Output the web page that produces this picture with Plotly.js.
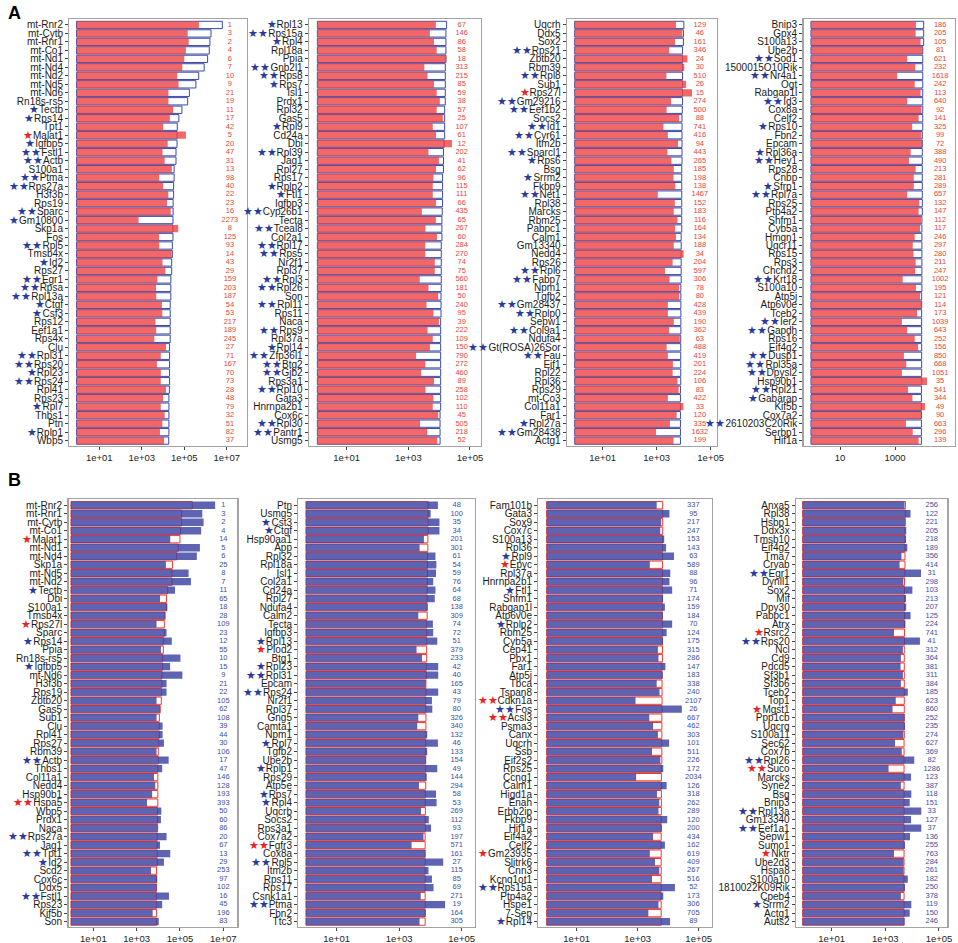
<!DOCTYPE html>
<html>
<head>
<meta charset="utf-8">
<script src="https://cdn.plot.ly/plotly-3.0.1.min.js"></script>
<style>html,body{margin:0;padding:0;background:#fff;}#chart{width:958px;height:943px;}</style>
</head>
<body>
<div id="chart"></div>
<script>
// ---------- DATA ----------
// Panel A1
const genesA1 = ["mt-Rnr2","mt-Cytb","mt-Rnr1","mt-Co1","mt-Nd1","mt-Nd4","mt-Nd2","mt-Nd5","mt-Nd6","Rn18s-rs5","Tectb","Rps14","Tpt1","Malat1","Igfbp5","Fstl1","Actb","S100a1","Ptma","Rps27a","H3f3b","Rps19","Sparc","Gm10800","Skp1a","Fos","Rpl5","Tmsb4x","Id2","Rps27","Egr1","Rpsa","Rpl13a","Ctgf","Csf3","Rps12","Eef1a1","Rps4x","Clu","Rpl31","Rps20","Rpl23","Rps24","Rpl41","Rps23","Rpl7","Thbs1","Ptn","Rplp1","Wbp5"];
const redA1 = [4.9e5,1.45e5,1.62e5,1.2e5,1.0e5,8.1e4,4.7e4,5.4e4,1.8e4,1.8e4,3.0e4,2.1e4,1.02e4,1.2e5,1.66e4,9.5e3,1.2e4,2.6e4,6.6e3,1.02e4,1.78e4,1.55e4,2.3e4,710,5.2e4,6.5e3,6.6e3,2.57e4,9.5e3,1.29e4,5.4e3,4.7e3,4.8e3,8.9e3,9.3e3,4.4e3,4.8e3,3.9e3,1.38e4,7.9e3,5.2e3,7.9e3,7.8e3,1.38e4,1.0e4,7.9e3,1.2e4,9.3e3,7.2e3,1.12e4];
const blueA1 = [6.2e6,1.82e6,1.62e6,1.51e6,1.26e6,8.7e5,4.8e5,3.55e5,1.74e5,1.45e5,7.8e4,5.6e4,4.7e4,4.6e4,4.6e4,4.1e4,4.1e4,3.35e4,3.35e4,3.16e4,3.16e4,3.0e4,3.0e4,2.95e4,2.95e4,2.95e4,2.75e4,2.75e4,2.57e4,2.57e4,2.34e4,2.34e4,2.34e4,2.19e4,2.19e4,2.19e4,2.19e4,2.19e4,2.04e4,2.04e4,2.04e4,2.04e4,2.04e4,2.0e4,1.9e4,1.9e4,1.9e4,1.9e4,1.9e4,1.86e4];
const rankA1 = [1,3,2,4,6,7,10,9,21,19,11,17,42,5,20,47,31,13,98,40,22,23,16,2273,8,125,93,14,43,29,159,203,187,54,53,217,189,245,27,71,167,70,73,28,48,79,32,51,82,37];
const sigA1 = [0,0,0,0,0,0,0,0,0,0,1,1,0,-1,1,2,2,0,2,2,0,0,2,1,0,0,2,0,1,0,2,2,2,1,1,0,0,0,0,2,2,1,2,0,0,1,0,0,1,0];

// Panel A2
const genesA2 = ["Rpl13","Rps15a","Rpl4","Rpl18a","Ppia","Gnb2l1","Rps8","Rps7","Isl1","Prdx1","Rpl32","Gas5","Rpl9","Cd24a","Dbi","Rpl39","Jag1","Rpl27","Rps17","Rplp2","Ftl1","Igfbp3","Cyp26b1","Tecta","Tceal8","Col2a1","Rpl17","Rps5","Nr2f1","Rpl37","Rpl3","Rpl26","Son","Rpl11","Rps11","Naca","Rps9","Rpl37a","Rpl14","Zfp36l1","Btg2","Gjb2","Rps3a1","Rpl10","Gata3","Hnrnpa2b1","Cox6c","Rpl30","Pantr1","Usmg5"];
const redA2 = [7.8e3,5.0e3,6.8e3,8.3e3,1.7e4,3.3e3,4.2e3,6.8e3,8.3e3,1.05e4,8.3e3,1.32e4,6.2e3,7.9e3,2.6e4,4.5e3,9.8e3,7.9e3,6.5e3,6.2e3,6.2e3,7.9e3,2.75e3,7.8e3,3.6e3,8.5e3,3.55e3,3.55e3,7.2e3,7.2e3,2.34e3,4.5e3,9.3e3,3.9e3,6.5e3,9.8e3,4.2e3,6.2e3,5.0e3,1.78e3,3.55e3,2.6e3,6.8e3,3.6e3,6.5e3,6.2e3,9.3e3,2.4e3,4.1e3,8.7e3];
const blueA2 = [1.74e4,1.66e4,1.66e4,1.66e4,1.66e4,1.58e4,1.58e4,1.58e4,1.58e4,1.58e4,1.51e4,1.51e4,1.51e4,1.51e4,1.45e4,1.38e4,1.38e4,1.38e4,1.29e4,1.29e4,1.29e4,1.29e4,1.26e4,1.23e4,1.23e4,1.23e4,1.17e4,1.17e4,1.17e4,1.17e4,1.17e4,1.17e4,1.15e4,1.15e4,1.15e4,1.12e4,1.12e4,1.12e4,1.12e4,1.12e4,1.12e4,1.12e4,1.12e4,1.12e4,1.12e4,1.12e4,1.07e4,1.07e4,1.07e4,1.07e4];
const rankA2 = [67,146,86,58,18,313,215,85,59,38,57,25,107,61,12,202,41,62,96,115,111,66,435,65,267,60,284,270,74,75,560,181,50,240,95,39,222,109,150,790,272,460,89,258,102,110,45,505,218,52];
const sigA2 = [1,2,1,0,0,2,2,1,0,0,0,0,1,0,0,2,0,0,0,1,1,0,2,0,2,0,2,2,0,0,2,2,0,2,0,0,2,0,1,2,2,2,0,2,0,0,0,2,2,0];

// Panel A3
const genesA3 = ["Uqcrh","Ddx5","Sox2","Rps21","Zbtb20","Rbm39","Rpl8","Sub1","Rps27l","Gm29216","Eef1b2","Socs2","Id1","Cyr61","Itm2b","Sparcl1","Rps6","Bsg","Srrm2","Fkbp9","Net1","Rpl38","Marcks","Rbm25","Pabpc1","Calm1","Gm13340","Nedd4","Rps26","Rpl6","Fabp7","Npm1","Tgfb2","Gm28437","Rplp0","Sepw1","Col9a1","Ndufa4","Gt(ROSA)26Sor","Fau","Eif1","Rpl22","Rpl36","Rps29","mt-Co3","Col11a1","Far1","Rpl27a","Gm28438","Actg1"];
const redA3 = [5.2e3,8.9e3,4.8e3,2.9e3,1.38e4,1.05e4,2.3e3,1.23e4,2.04e4,3.4e3,2.34e3,6.8e3,1.78e3,2.6e3,6.2e3,2.5e3,3.5e3,4.3e3,4.2e3,4.9e3,1.1e3,4.7e3,4.3e3,5.9e3,4.8e3,5.2e3,4.3e3,1.0e4,3.9e3,2.04e3,3.0e3,6.8e3,6.8e3,2.6e3,2.6e3,4.3e3,2.9e3,7.2e3,2.34e3,2.6e3,4.0e3,3.9e3,5.9e3,6.5e3,2.6e3,9.8e3,5.5e3,3.1e3,950,4.2e3];
const blueA3 = [1.02e4,9.8e3,9.8e3,9.1e3,9.1e3,9.1e3,9.1e3,9.1e3,9.1e3,9.1e3,8.9e3,8.7e3,8.7e3,8.7e3,8.7e3,8.7e3,8.7e3,8.5e3,8.5e3,8.5e3,8.5e3,8.5e3,8.5e3,8.5e3,8.5e3,8.1e3,8.1e3,8.1e3,8.1e3,8.1e3,8.1e3,7.9e3,7.9e3,7.9e3,7.9e3,7.9e3,7.9e3,7.8e3,7.8e3,7.8e3,7.8e3,7.8e3,7.8e3,7.6e3,7.6e3,7.6e3,7.6e3,7.6e3,7.6e3,7.6e3];
const rankA3 = [129,46,161,346,24,30,510,26,15,274,500,88,741,416,94,443,265,185,198,138,1467,152,183,116,164,134,188,34,204,597,306,78,80,428,439,190,362,63,488,419,201,224,106,83,422,33,120,335,1632,199];
const sigA3 = [0,0,0,2,0,0,2,0,-1,2,2,0,2,2,0,2,1,0,1,0,2,0,0,0,0,0,0,0,0,2,2,0,0,2,2,0,2,0,2,2,0,0,0,0,0,0,0,1,2,0];

// Panel A4
const genesA4 = ["Bnip3","Gpx4","S100a13","Ube2b","Sod1","1500015O10Rik","Nr4a1","Ogt","Rabgap1l","Id3","Cox8a","Celf2","Rps10","Fbn2","Epcam","Rpl36a","Hey1","Rps28","Cnbp","Sfrp1","Rpl7a","Rps25","Ptp4a2","Shfm1","Cyb5a","Hmgn1","Uqcr11","Rps15","Rps3","Chchd2","Krt18","S100a10","Atp5j","Atp6v0e","Tceb2","Ier2","Gapdh","Rps16","Eif4g2","Dusp1","Rpl35a","Dpysl2","Hsp90b1","Rpl21","Gabarap","Kif5b","Cox7a2","2610203C20Rik","Serbp1","Hif1a"];
const redA4 = [5.75e3,5.6e3,8.5e3,1.0e4,2.75e3,5.4e3,1.2e3,5.2e3,8.5e3,2.75e3,9.1e3,7.2e3,4.2e3,9.1e3,9.7e3,3.7e3,3.2e3,5.6e3,4.8e3,4.8e3,2.75e3,7.6e3,7.2e3,8.9e3,8.1e3,5.2e3,4.4e3,4.7e3,5.6e3,5.4e3,1.9e3,5.75e3,8.1e3,8.9e3,6.3e3,1.78e3,2.75e3,5.2e3,6.9e3,2.1e3,2.57e3,1.78e3,1.45e4,2.95e3,4.3e3,1.23e4,9.0e3,2.5e3,4.4e3,7.2e3];
const blueA4 = [1.1e4,1.1e4,1.1e4,1.02e4,1.02e4,1.02e4,1.02e4,1.02e4,1.02e4,1.02e4,1.02e4,1.02e4,1.02e4,9.8e3,9.8e3,9.8e3,9.8e3,9.8e3,9.8e3,9.8e3,9.8e3,9.8e3,9.8e3,9.5e3,9.5e3,9.5e3,9.5e3,9.5e3,9.5e3,9.5e3,9.5e3,9.5e3,9.3e3,9.3e3,9.3e3,9.3e3,9.3e3,9.3e3,9.3e3,9.3e3,9.3e3,9.3e3,9.3e3,9.1e3,9.1e3,9.1e3,9.1e3,9.1e3,9.1e3,9.1e3];
const rankA4 = [186,205,105,81,621,232,1618,242,113,640,92,141,325,99,72,388,490,213,281,289,657,132,147,112,117,246,297,280,211,247,1002,195,121,114,173,1039,643,252,156,850,668,1051,35,541,344,49,90,663,296,139];
const sigA4 = [0,0,0,0,2,0,2,0,0,2,0,0,1,0,0,1,2,0,0,1,2,0,0,0,0,0,0,0,0,0,2,0,0,0,0,2,2,0,0,2,2,2,0,2,1,0,0,2,0,0];

// Panel B1
const genesB1 = ["mt-Rnr2","mt-Rnr1","mt-Cytb","mt-Co1","Malat1","mt-Nd1","mt-Nd4","Skp1a","mt-Nd5","mt-Nd2","Tectb","Dbi","S100a1","Tmsb4x","Rps27l","Sparc","Rps14","Ppia","Rn18s-rs5","Igfbp5","mt-Nd6","H3f3b","Rps19","Zbtb20","Gas5","Sub1","Clu","Rpl41","Rps27","Rbm39","Actb","Thbs1","Col11a1","Nedd4","Hsp90b1","Hspa5","Wbp5","Prdx1","Naca","Rps27a","Jag1","Tpt1","Id2","Scd2","Cox6c","Ddx5","Fstl1","Rps23","Kif5b","Son"];
const redB1 = [3.7e5,1.2e5,1.2e5,1.07e5,1.0e5,8.3e4,7.1e4,4.5e4,4.3e4,4.3e4,2.7e4,2.4e4,2.4e4,2.04e4,1.9e4,1.9e4,1.7e4,1.7e4,1.58e4,1.58e4,1.48e4,1.48e4,1.41e4,1.38e4,1.23e4,1.12e4,1.12e4,1.12e4,1.05e4,1.0e4,1.0e4,9.5e3,9.5e3,9.5e3,9.5e3,9.5e3,9.3e3,9.3e3,9.3e3,8.9e3,8.9e3,8.9e3,8.9e3,8.3e3,8.3e3,8.3e3,8.3e3,8.3e3,8.3e3,8.3e3];
const blueB1 = [4.2e6,1.07e6,1.23e6,9.5e5,3.55e4,8.3e5,6.0e5,2.24e4,2.5e5,3.2e5,5.9e4,1.2e4,2.6e4,2.1e4,8.3e3,2.4e4,4.2e4,1.32e4,1.05e5,3.5e4,1.29e5,2.4e4,2.4e4,8.3e3,1.2e4,8.3e3,1.58e4,1.58e4,1.82e4,8.3e3,3.0e4,1.51e4,6.3e3,7.2e3,5.2e3,3.0e3,1.38e4,1.32e4,9.3e3,2.4e4,1.2e4,3.55e4,1.82e4,4.6e3,8.9e3,8.3e3,3.1e4,1.51e4,5.5e3,1.05e4];
const rankB1 = [1,3,2,4,14,5,6,25,8,7,11,65,18,28,109,23,12,55,10,15,9,21,22,105,62,108,39,44,30,106,17,47,146,128,193,393,50,60,86,20,67,13,29,253,97,102,16,45,196,83];
const sigB1 = [0,0,0,0,-1,0,0,0,0,0,1,0,0,0,-1,0,1,0,0,1,0,0,0,0,0,0,0,0,0,0,2,0,0,0,0,-2,0,0,0,2,0,2,1,0,0,0,2,0,0,0];

// Panel B2
const genesB2 = ["Ptn","Usmg5","Cst3","Ctgf","Hsp90aa1","App","Rpl32","Rpl18a","Isl1","Col2a1","Cd24a","Rpl27","Ndufa4","Calm2","Tecta","Igfbp3","Rpl13","Plod2","Btg1","Rpl23","Rpl31","Epcam","Rps24","Nr2f1","Rpl37","Gng5","Camta1","Npm1","Rpl7","Tgfb2","Ube2b","Rplp1","Rps29","Atp5e","Rps7","Rpl4","Uqcrb","Socs2","Rps3a1","Cox7a2","Fgfr3","Cox8a","Rpl5","Itm2b","Rps11","Rps17","Csnk1a1","Ptma","Fbn2","Ttc3"];
const redB2 = [8.5e3,8.5e3,8.5e3,8.5e3,8.3e3,8.3e3,8.1e3,8.1e3,8.1e3,8.1e3,7.9e3,7.9e3,7.9e3,7.9e3,7.6e3,7.6e3,7.6e3,7.6e3,7.6e3,7.4e3,7.4e3,7.2e3,7.2e3,7.2e3,7.2e3,7.2e3,7.2e3,7.2e3,7.1e3,7.1e3,7.1e3,7.1e3,7.1e3,7.1e3,6.9e3,6.9e3,6.9e3,6.9e3,6.9e3,6.8e3,6.8e3,6.8e3,6.8e3,6.8e3,6.8e3,6.8e3,6.8e3,6.8e3,6.8e3,6.8e3];
const blueB2 = [1.74e4,1.02e4,1.95e4,1.95e4,6.2e3,4.5e3,1.45e4,1.55e4,1.51e4,1.23e4,1.45e4,1.38e4,8.1e3,4.1e3,1.2e4,1.23e4,1.66e4,3.6e3,5.4e3,1.78e4,1.78e4,7.1e3,1.78e4,1.12e4,1.15e4,4.1e3,3.8e3,7.9e3,1.74e4,7.9e3,7.2e3,1.66e4,7.6e3,4.3e3,1.51e4,1.58e4,5.0e3,8.9e3,1.05e4,6.0e3,2.5e3,6.9e3,2.57e4,8.7e3,1.12e4,1.26e4,4.9e3,2.95e4,7.1e3,4.5e3];
const rankB2 = [48,100,35,34,201,301,61,54,59,76,64,68,138,309,74,72,51,379,233,42,40,165,43,79,80,326,340,132,46,133,154,49,144,294,58,53,269,112,93,197,571,161,27,115,85,69,271,19,164,305];
const sigB2 = [0,0,1,1,0,0,0,0,0,0,0,0,0,0,0,0,1,-1,0,1,2,0,2,0,0,0,0,0,1,0,0,1,0,0,1,1,0,0,0,0,-2,0,2,0,0,0,0,2,0,0];

// Panel B3
const genesB3 = ["Fam101b","Gata3","Sox9","Cox7c","S100a13","Rpl36","Rpl9","Epyc","Rpl37a","Hnrnpa2b1","Ftl1","Shfm1","Rabgap1l","Atp6v0e","Rplp2","Rbm25","Cyb5a","Cep41","Pbx1","Far1","Atp5j","Tbca","Tspan8","Cdkn1a","Fos","Acsl3","Psma3","Canx","Uqcrh","Ssb","Eif2s2","Rps25","Ccng1","Calm1","Higd1a","Enah","Erbb2ip","Fkbp9","Hif1a","Eif4a2","Celf2","Gm23935","Slitrk6","Cnn3","Kcnq1ot1","Rps15a","Ptp4a2","Hspe1","7-Sep","Rpl14"];
const redB3 = [6.6e3,6.6e3,6.6e3,6.6e3,6.6e3,6.6e3,6.5e3,6.5e3,6.5e3,6.5e3,6.5e3,6.5e3,6.5e3,6.5e3,6.5e3,6.5e3,6.5e3,6.5e3,6.5e3,6.3e3,6.3e3,6.3e3,6.3e3,6.3e3,6.3e3,6.2e3,6.2e3,6.2e3,6.2e3,6.2e3,6.2e3,6.0e3,6.0e3,6.0e3,6.0e3,6.0e3,6.0e3,5.9e3,5.9e3,5.9e3,5.9e3,5.9e3,5.9e3,5.9e3,5.9e3,5.9e3,5.9e3,5.9e3,5.9e3,5.9e3];
const blueB3 = [4.2e3,1.1e4,5.9e3,5.5e3,7.4e3,8.5e3,1.55e4,2.5e3,1.17e4,1.1e4,1.35e4,6.8e3,7.8e3,6.6e3,1.35e4,8.9e3,6.8e3,4.6e3,4.8e3,8.1e3,6.6e3,4.2e3,5.2e3,850,2.8e4,2.4e3,3.2e3,4.6e3,1.07e4,2.95e3,5.5e3,6.9e3,890,8.9e3,4.3e3,5.1e3,4.8e3,9.3e3,6.2e3,3.2e3,7.8e3,2.5e3,3.7e3,5.1e3,2.95e3,1.66e4,6.9e3,4.8e3,2.24e3,1.15e4];
const rankB3 = [337,95,217,247,153,143,63,589,88,96,71,174,159,184,70,124,175,315,286,147,183,338,240,2107,26,667,462,303,101,511,226,172,2034,126,318,262,289,120,200,434,162,619,409,267,516,52,173,306,705,89];
const sigB3 = [0,0,0,0,0,0,1,-1,0,0,1,0,0,0,1,0,0,0,0,0,0,0,0,-2,2,-2,0,0,0,0,0,0,0,0,0,0,0,0,0,0,0,-1,0,0,0,2,0,0,0,1];

// Panel B4
const genesB4 = ["Anxa5","Rpl38","Hsbp1","Ddx3x","Tmsb10","Eif4g2","Tma7","Cryab","Egr1","Dynll1","Sox2","Mif","Dpy30","Pabpc1","Atrx","Rsrc2","Rps20","Ncl","Cd9","Pdcd5","Sf3b1","Sf3b6","Tceb2","Top1","Mgst1","Ppp1cb","Uqcrq","S100a11","Sec62","Cox7b","Rpl26","Suco","Marcks","Syne2","Bsg","Bnip3","Rpl13a","Gm13340","Eef1a1","Sepw1","Sumo1","Nktr","Ube2d3","Hspa8","S100a10","1810022K09Rik","Cpeb4","Srrm2","Actg1","Auts2"];
const redB4 = [5.6e3,5.6e3,5.6e3,5.4e3,5.4e3,5.4e3,5.4e3,5.4e3,5.4e3,5.2e3,5.2e3,5.2e3,5.2e3,5.2e3,5.2e3,5.2e3,5.2e3,5.1e3,5.1e3,5.1e3,5.1e3,5.1e3,5.1e3,5.1e3,5.1e3,5.1e3,5.1e3,5.1e3,5.0e3,5.0e3,5.0e3,5.0e3,5.0e3,5.0e3,5.0e3,5.0e3,5.0e3,5.0e3,5.0e3,5.0e3,5.0e3,5.0e3,5.0e3,5.0e3,5.0e3,5.0e3,5.0e3,5.0e3,5.0e3,5.0e3];
const blueB4 = [5.2e3,8.7e3,5.4e3,6.0e3,5.9e3,6.6e3,4.0e3,3.4e3,2.14e4,4.7e3,1.02e4,5.9e3,6.0e3,8.7e3,5.6e3,2.1e3,1.95e4,4.5e3,3.8e3,3.7e3,4.5e3,3.8e3,6.9e3,2.45e3,1.86e3,5.2e3,5.4e3,4.7e3,2.3e3,4.1e3,1.2e4,1.32e3,9.1e3,3.8e3,9.3e3,8.1e3,2.19e4,9.1e3,2.19e4,8.3e3,5.4e3,2.1e3,4.8e3,4.8e3,6.9e3,5.4e3,3.8e3,9.3e3,8.1e3,5.2e3];
const rankB4 = [256,122,221,205,218,189,356,414,31,298,103,213,207,125,224,741,41,312,364,381,311,384,185,623,860,252,235,274,627,369,82,1286,123,387,118,151,33,127,37,136,255,763,284,261,182,250,378,119,150,246];
const sigB4 = [0,0,0,0,0,0,0,0,2,0,0,0,0,0,0,-1,2,0,0,0,0,0,0,0,-1,0,0,0,0,0,2,-2,0,0,0,0,2,0,2,0,0,-1,0,0,0,0,0,1,0,0];

const ticksLong = [10, 1e3, 1e5, 1e7];
const ticksLongText = ["1e+01","1e+03","1e+05","1e+07"];
const ticksMid = [10, 1e3, 1e5];
const ticksMidText = ["1e+01","1e+03","1e+05"];
const ticksA4 = [10, 1000];
const ticksA4Text = ["10","1000"];

// ---------- LAYOUT / STYLE ----------
const W = 958, H = 943;
const FONT = "Liberation Sans, Arial, Helvetica, sans-serif";
const STAR_BLUE = "#2b3a9b", STAR_RED = "#ee2222";
const RED_FILL = "rgba(238,60,60,0.78)", BLUE_FILL = "rgba(58,66,160,0.82)";
const BLUE_LINE = "#3a4aa8", RED_LINE = "#ee3b30";
const RANK_RED = "#e8453c", RANK_BLUE = "#3f4ea3";

const panels = [
  {set:"A", g:genesA1, red:redA1, blue:blueA1, rank:rankA1, sig:sigA1, px:[69.3,246.7], py:[19,445.7], r:[-0.41,7.94], base:0.86, rx:7.15, tv:ticksLong, tt:ticksLongText},
  {set:"A", g:genesA2, red:redA2, blue:blueA2, rank:rankA2, sig:sigA2, px:[309,481], py:[19,445.7], r:[-0.222,5.357], base:1.12, rx:4.73, tv:ticksMid, tt:ticksMidText},
  {set:"A", g:genesA3, red:redA3, blue:blueA3, rank:rankA3, sig:sigA3, px:[567,717], py:[19,445.7], r:[-0.321,5.235], base:0.92, rx:4.60, tv:ticksMid, tt:ticksMidText},
  {set:"A", g:genesA4, red:redA4, blue:blueA4, rank:rankA4, sig:sigA4, px:[803.5,955], py:[19,445.7], r:[-0.327,5.18], base:0.88, rx:4.64, tv:ticksA4, tt:ticksA4Text},
  {set:"B", g:genesB1, red:redB1, blue:blueB1, rank:rankB1, sig:sigB1, px:[68.5,237.3], py:[499.3,926.7], r:[-0.146,7.646], base:0.93, rx:7.0, tv:ticksLong, tt:ticksLongText},
  {set:"B", g:genesB2, red:redB2, blue:blueB2, rank:rankB2, sig:sigB2, px:[298.3,475], py:[499.3,926.7], r:[-0.227,5.427], base:1.04, rx:4.84, tv:ticksMid, tt:ticksMidText},
  {set:"B", g:genesB3, red:redB3, blue:blueB3, rank:rankB3, sig:sigB3, px:[538.3,711.7], py:[499.3,926.7], r:[-0.257,5.426], base:1.04, rx:4.825, tv:ticksMid, tt:ticksMidText},
  {set:"B", g:genesB4, red:redB4, blue:blueB4, rank:rankB4, sig:sigB4, px:[796,947.3], py:[499.3,926.7], r:[-0.329,5.31], base:0.83, rx:4.73, tv:ticksMid, tt:ticksMidText}
];

function starLabel(name, s) {
  if (!s) return name;
  const col = s > 0 ? STAR_BLUE : STAR_RED;
  return '<span style="color:' + col + ';font-size:11px">' + '★'.repeat(Math.abs(s)) + '</span>' + name;
}

const traces = [];
const layout = {
  width: W, height: H,
  margin: {l:0, r:0, t:0, b:0},
  paper_bgcolor: "#ffffff", plot_bgcolor: "#ffffff",
  showlegend: false,
  barmode: "overlay",
  bargap: 0.14,
  font: {family: FONT, color: "#1a1a1a"},
  annotations: [
    {text:"<b>A</b>", xref:"paper", yref:"paper", x:6/W, y:1-1/H, xanchor:"left", yanchor:"top", showarrow:false, font:{size:18, family:FONT, color:"#000"}},
    {text:"<b>B</b>", xref:"paper", yref:"paper", x:6/W, y:1-468/H, xanchor:"left", yanchor:"top", showarrow:false, font:{size:18, family:FONT, color:"#000"}}
  ]
};

panels.forEach((p, i) => {
  const k = i + 1;
  const xa = k === 1 ? "x" : "x" + k;
  const ya = k === 1 ? "y" : "y" + k;
  const isA = p.set === "A";
  const under = isA ? p.blue : p.red;
  const over = isA ? p.red : p.blue;
  traces.push({
    type:"bar", orientation:"h", y:p.g, x:under.map(v => v - p.base), base:p.base,
    xaxis:xa, yaxis:ya, hoverinfo:"skip",
    marker:{color:"#ffffff", line:{color: isA ? BLUE_LINE : RED_LINE, width:1}}
  });
  traces.push({
    type:"bar", orientation:"h", y:p.g, x:over.map(v => v - p.base), base:p.base,
    xaxis:xa, yaxis:ya, hoverinfo:"skip",
    marker:{color: isA ? RED_FILL : BLUE_FILL, line:{width:0}}
  });
  traces.push({
    type:"scatter", mode:"text", y:p.g, x:p.g.map(() => Math.pow(10, p.rx)),
    text:p.rank.map(String), textposition:"middle center", cliponaxis:false,
    textfont:{size:7.5, family:FONT, color: isA ? RANK_RED : RANK_BLUE},
    xaxis:xa, yaxis:ya, hoverinfo:"skip"
  });
  const xname = k === 1 ? "xaxis" : "xaxis" + k;
  const yname = k === 1 ? "yaxis" : "yaxis" + k;
  layout[xname] = {
    domain:[p.px[0]/W, p.px[1]/W], anchor:ya, type:"log", range:p.r, autorange:false,
    tickmode:"array", tickvals:p.tv, ticktext:p.tt,
    ticks:"outside", ticklen:3, tickwidth:1, tickcolor:"#444",
    tickfont:{size:9.5, family:FONT, color:"#222"},
    showgrid:false, zeroline:false, showline:true, mirror:true, linecolor:"#a3a3a3", linewidth:1.3,
    fixedrange:true
  };
  layout[yname] = {
    domain:[(H - p.py[1])/H, (H - p.py[0])/H], anchor:xa, type:"category",
    categoryorder:"array", categoryarray:p.g, range:[49.6, -0.7], autorange:false,
    tickmode:"array", tickvals:p.g, ticktext:p.g.map((n, j) => starLabel(n, p.sig[j])),
    ticks:"outside", ticklen:3, tickwidth:1, tickcolor:"#444",
    tickfont:{size:10, family:FONT, color:"#1a1a1a"},
    showgrid:false, zeroline:false, showline:true, mirror:true, linecolor:"#a3a3a3", linewidth:1.3,
    fixedrange:true
  };
});

Plotly.newPlot("chart", traces, layout, {staticPlot:true, displayModeBar:false});
</script>
</body>
</html>
